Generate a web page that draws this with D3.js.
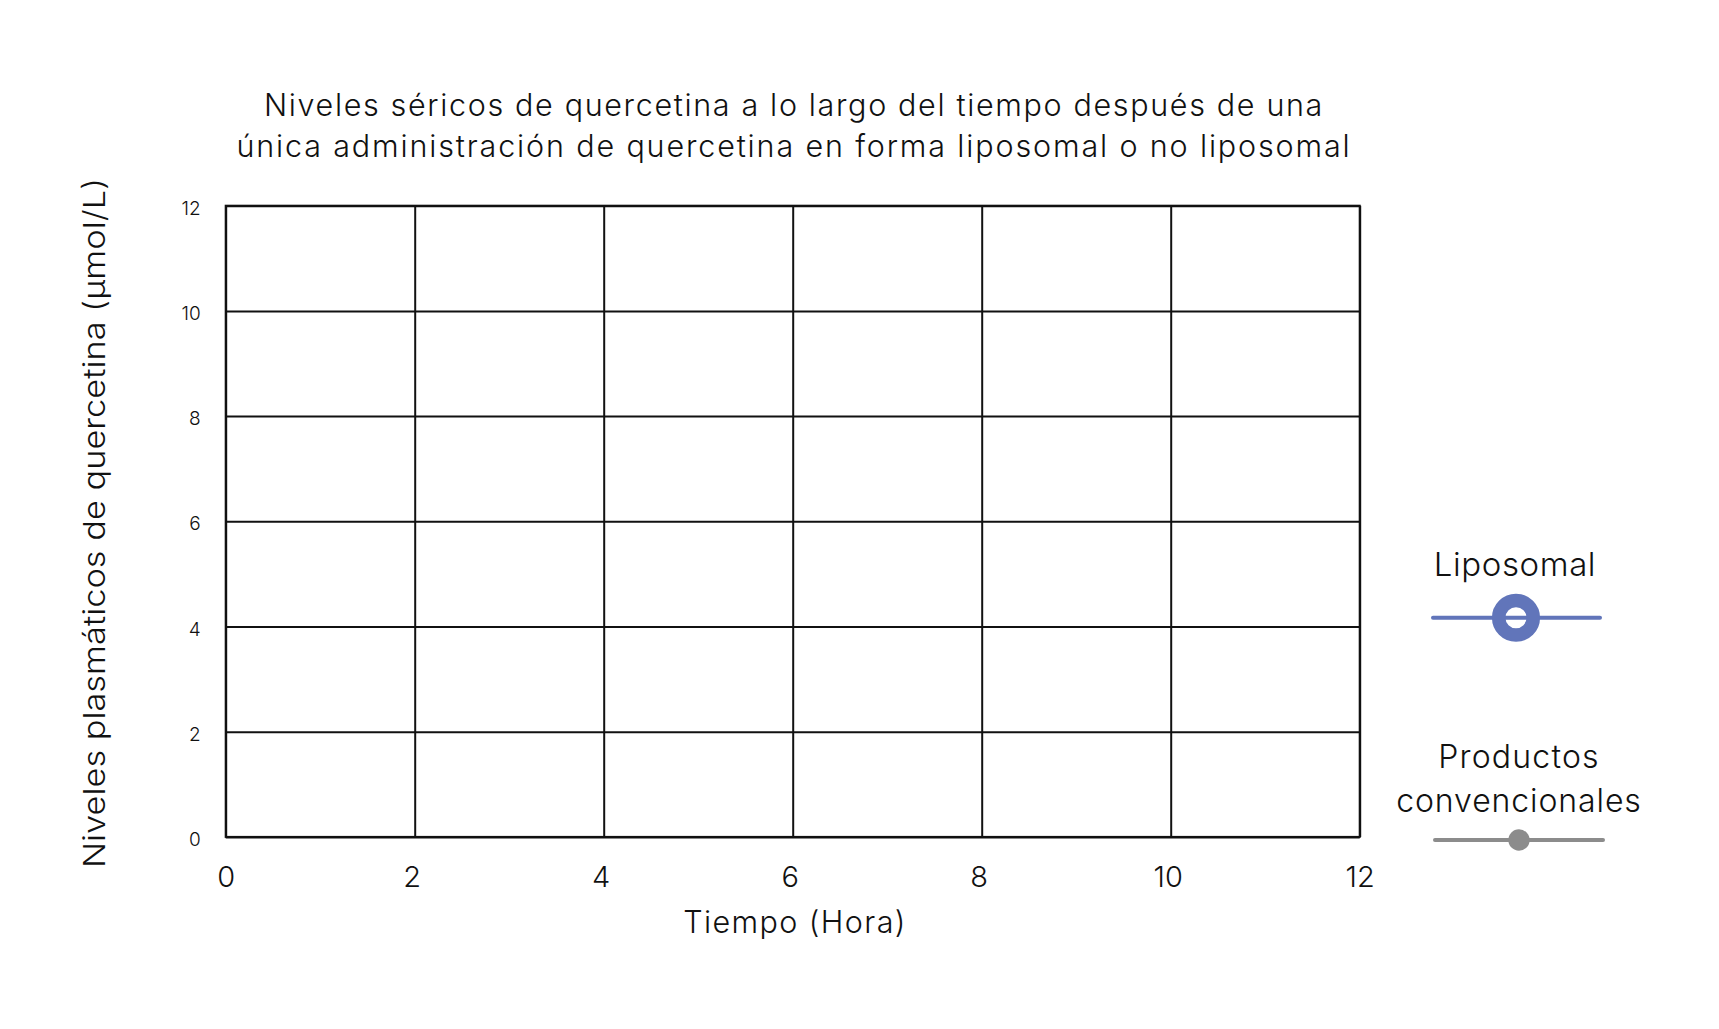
<!DOCTYPE html>
<html>
<head>
<meta charset="utf-8">
<script src="https://cdn.jsdelivr.net/npm/d3@7"></script>
<style>
  html, body { margin: 0; padding: 0; background: #ffffff; }
  svg { display: block; }
  text { font-family: Inter, "Noto Sans", sans-serif; font-weight: 300; fill: #111; }
</style>
</head>
<body>
<svg id="chart" width="1719" height="1029"></svg>
<script>
// ---- data ----
const titleLines = [
  "Niveles séricos de quercetina a lo largo del tiempo después de una",
  "única administración de quercetina en forma liposomal o no liposomal"
];
const xTicks = [0, 2, 4, 6, 8, 10, 12];
const yTicks = [0, 2, 4, 6, 8, 10, 12];
const xLabel = "Tiempo (Hora)";
const yLabel = "Niveles plasmáticos de quercetina (µmol/L)";
const seriesNames = ["Liposomal", "Productos convencionales"];
// No data points are plotted in the reference chart (empty series)
const liposomalTimes = [];
const liposomalValues = [];
const convencionalTimes = [];
const convencionalValues = [];

// ---- layout ----
const W = 1719, H = 1029;
const plot = { left: 225.7, right: 1359.7, top: 205.7, bottom: 836.9 };
const colors = { lipo: "#6175BA", conv: "#8C8C8C", grid: "#111" };

const svg = d3.select("#chart");
svg.append("rect").attr("width", W).attr("height", H).attr("fill", "#fff");

const x = d3.scaleLinear().domain([0, 12]).range([plot.left, plot.right]);
const y = d3.scaleLinear().domain([0, 12]).range([plot.bottom, plot.top]);

// vertical grid + x labels
const gx = svg.append("g").attr("transform", `translate(0,${plot.bottom})`)
  .call(d3.axisBottom(x).tickValues(xTicks).tickSize(-(plot.bottom - plot.top)).tickPadding(0).tickFormat(d3.format("d")));
gx.select(".domain").remove();
gx.selectAll(".tick line").attr("stroke", colors.grid).attr("stroke-width", 2);
gx.selectAll(".tick text").attr("font-size", 29).attr("fill", "#111")
  .attr("font-family", "Inter, sans-serif").attr("font-weight", 300)
  .attr("y", 50).attr("dy", 0).attr("dx", d => (d > 0 && d < 12) ? -3 : 0);

// horizontal grid + y labels
const gy = svg.append("g").attr("transform", `translate(${plot.left},0)`)
  .call(d3.axisLeft(y).tickValues(yTicks).tickSize(-(plot.right - plot.left)).tickPadding(0).tickFormat(d3.format("d")));
gy.select(".domain").remove();
gy.selectAll(".tick line").attr("stroke", colors.grid).attr("stroke-width", 2);
gy.selectAll(".tick text").attr("font-size", 19).attr("fill", "#111")
  .attr("font-family", "Inter, sans-serif").attr("font-weight", 300)
  .attr("x", -25).attr("dy", "0.45em");

// frame
svg.append("rect").attr("x", plot.left).attr("y", plot.top)
  .attr("width", plot.right - plot.left).attr("height", plot.bottom - plot.top)
  .attr("fill", "none").attr("stroke", colors.grid).attr("stroke-width", 2);

// series (empty in the reference)
const line = d3.line().x(d => x(d[0])).y(d => y(d[1]));
svg.append("path").datum(d3.zip(liposomalTimes, liposomalValues))
  .attr("d", line).attr("fill", "none").attr("stroke", colors.lipo).attr("stroke-width", 4);
svg.append("path").datum(d3.zip(convencionalTimes, convencionalValues))
  .attr("d", line).attr("fill", "none").attr("stroke", colors.conv).attr("stroke-width", 4);

// title
svg.append("text").attr("x", 794).attr("y", 116).attr("text-anchor", "middle")
  .attr("font-size", 30.5).attr("letter-spacing", 1.65).text(titleLines[0]);
svg.append("text").attr("x", 794).attr("y", 157).attr("text-anchor", "middle")
  .attr("font-size", 30.5).attr("letter-spacing", 1.85).text(titleLines[1]);

// axis titles
svg.append("text").attr("x", 795).attr("y", 933).attr("text-anchor", "middle")
  .attr("font-size", 30.5).attr("letter-spacing", 1.4).text(xLabel);
svg.append("text").attr("transform", "translate(105,523) rotate(-90)")
  .attr("text-anchor", "middle").attr("font-size", 30)
  .attr("font-family", "'Open Sans', sans-serif")
  .attr("textLength", 690).attr("lengthAdjust", "spacingAndGlyphs")
  .text(yLabel);

// legend
const lg = svg.append("g");
lg.append("text").attr("x", 1515).attr("y", 576).attr("text-anchor", "middle")
  .attr("font-size", 33).attr("letter-spacing", 0.6).text(seriesNames[0]);
lg.append("line").attr("x1", 1433).attr("x2", 1600).attr("y1", 617.7).attr("y2", 617.7)
  .attr("stroke", colors.lipo).attr("stroke-width", 4).attr("stroke-linecap", "round");
lg.append("circle").attr("cx", 1516).attr("cy", 617.7).attr("r", 17.3)
  .attr("fill", "none").attr("stroke", colors.lipo).attr("stroke-width", 13.5);

const convWords = seriesNames[1].split(" ");
lg.append("text").attr("x", 1519).attr("y", 767.7).attr("text-anchor", "middle")
  .attr("font-size", 32).attr("letter-spacing", 1.2).text(convWords[0]);
lg.append("text").attr("x", 1519).attr("y", 811.7).attr("text-anchor", "middle")
  .attr("font-size", 32).attr("letter-spacing", 0.9).text(convWords[1]);
lg.append("line").attr("x1", 1435).attr("x2", 1603).attr("y1", 840).attr("y2", 840)
  .attr("stroke", colors.conv).attr("stroke-width", 4).attr("stroke-linecap", "round");
lg.append("circle").attr("cx", 1519).attr("cy", 840).attr("r", 10.7)
  .attr("fill", colors.conv);
</script>
</body>
</html>
